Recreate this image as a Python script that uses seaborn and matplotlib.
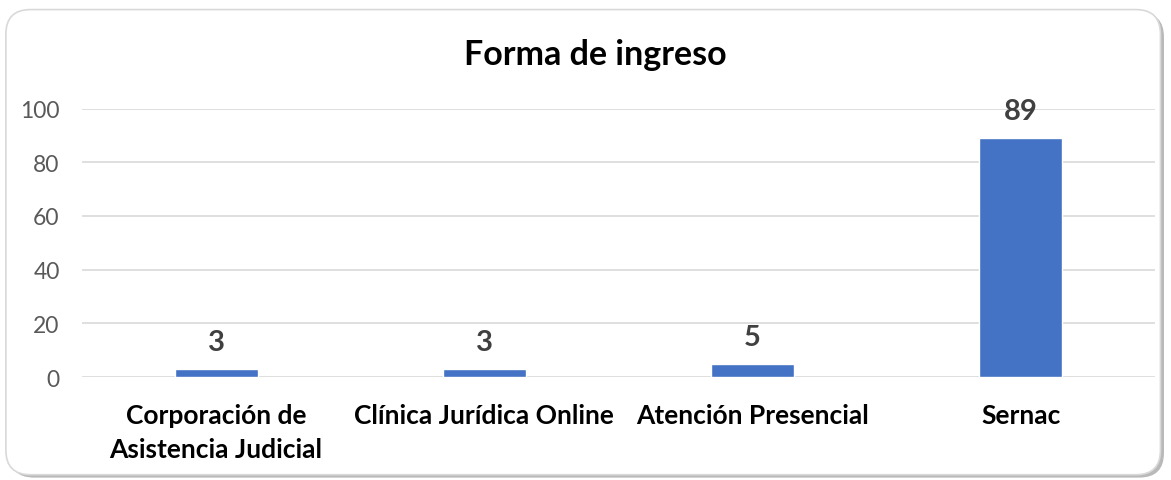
import matplotlib
matplotlib.use("Agg")
import pandas as pd
import seaborn as sns
from matplotlib import pyplot as plt
from matplotlib.patches import FancyBboxPatch

categorias = ["Corporación de\nAsistencia Judicial", "Clínica Jurídica Online",
              "Atención Presencial", "Sernac"]
valores = [3, 3, 5, 89]
y_ticks = [0, 20, 40, 60, 80, 100]

sns.set_theme(style="white")
plt.rcParams['font.family'] = ['Lato', 'DejaVu Sans']

df = pd.DataFrame({"forma": categorias, "n": valores})

fig = plt.figure(figsize=(11.71, 4.81), dpi=100)

# marco redondeado con sombra
asp = 11.71 / 4.81
shadow = FancyBboxPatch((0.008, 0.005), 0.986, 0.967, boxstyle="round,pad=0,rounding_size=0.021",
                        transform=fig.transFigure, facecolor="#808080", edgecolor="none",
                        alpha=0.55, zorder=0, mutation_aspect=asp)
frame = FancyBboxPatch((0.005, 0.011), 0.986, 0.967, boxstyle="round,pad=0,rounding_size=0.021",
                       transform=fig.transFigure, facecolor="white", edgecolor="#d9d9d9",
                       linewidth=1.2, zorder=0.5, mutation_aspect=asp)
fig.patches.extend([shadow, frame])

ax = fig.add_axes([0.07, 0.2141, 0.9163, 0.5582])
ax.set_zorder(2)
ax.patch.set_alpha(0)
sns.barplot(data=df, x="forma", y="n", color="#4472C4", width=0.31, saturation=1, ax=ax, zorder=3)

ax.set_ylim(0, 100)
ax.set_yticks(y_ticks)
ax.grid(axis="y", color="#d9d9d9", linewidth=1.2, zorder=0)
ax.set_axisbelow(True)
for s in ax.spines.values():
    s.set_visible(False)
ax.set_xlabel("")
ax.set_ylabel("")
ax.tick_params(axis="y", length=0, pad=16, labelsize=16.5, labelcolor="#595959")
ax.tick_params(axis="x", length=0, pad=19, labelsize=19)
for lab in ax.get_xticklabels():
    lab.set_fontweight("bold")
    lab.set_color("black")
    lab.set_verticalalignment("top")
    lab.set_linespacing(1.5)

for cont in ax.containers:
    ax.bar_label(cont, padding=10, fontsize=21, fontweight="bold", color="#404040")

fig.text(0.508, 0.885, "Forma de ingreso", ha="center", va="center",
         fontsize=24.5, fontweight="bold", color="black", zorder=3)

fig.savefig("out.png", dpi=100)
